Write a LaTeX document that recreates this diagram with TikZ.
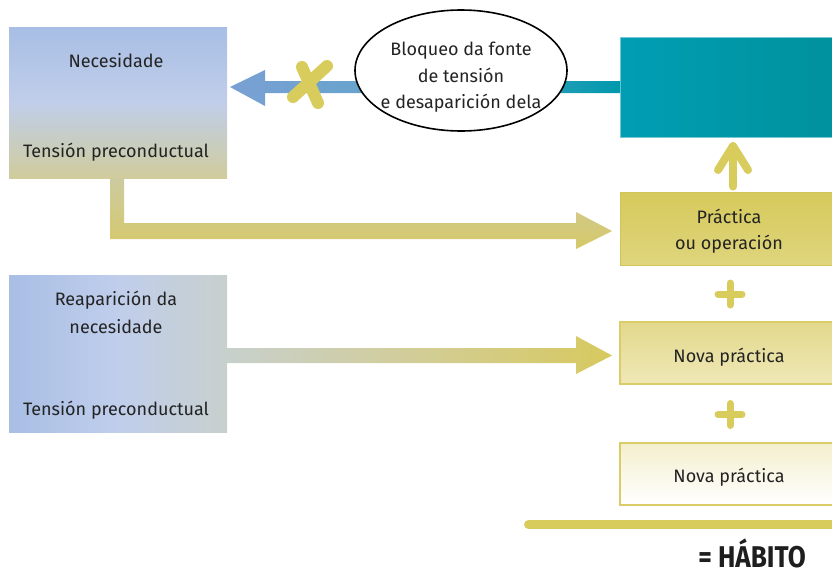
\documentclass[tikz,border=0pt]{standalone}
\usepackage{fontspec}
\setmainfont{Fira Sans}
\usetikzlibrary{calc,shapes.geometric}
\definecolor{txt}{RGB}{35,35,35}
\definecolor{bAtop}{RGB}{168,190,228}
\definecolor{bAmid}{RGB}{192,206,234}
\definecolor{bAbot}{RGB}{208,204,156}
\definecolor{bBleft}{RGB}{168,190,228}
\definecolor{bBmid}{RGB}{192,206,236}
\definecolor{bBright}{RGB}{200,208,205}
\definecolor{yl}{RGB}{216,204,92}
\definecolor{ylb}{RGB}{218,205,105}
\definecolor{tealL}{RGB}{0,158,180}
\definecolor{tealR}{RGB}{0,145,156}
\definecolor{tealB}{RGB}{120,200,212}
\definecolor{arL}{RGB}{122,160,212}
\definecolor{arM}{RGB}{95,165,202}
\definecolor{arR}{RGB}{0,153,172}
\tikzset{
  panel/.style={rectangle, inner sep=0pt, outer sep=0pt},
  lbl/.style={anchor=base, text=txt, inner sep=0pt},
  xmark/.style={draw=yl, line width=12pt, line cap=round},
  plusst/.style={draw=yl, line width=7pt, line cap=round},
  upar/.style={draw=yl, line width=8pt, line cap=round, line join=round},
}
\begin{document}
\begin{tikzpicture}[x=1pt,y=-1pt,font=\fontsize{18}{26}\selectfont]
\useasboundingbox (0,0) rectangle (832,576);

% left boxes
\node[panel, minimum width=218pt, minimum height=151pt, top color=bAtop, bottom color=bAbot, middle color=bAmid] (nec) at (118,102.5) {};
\node[lbl] (necA) at (116,67) {Necesidade};
\node[lbl] (necB) at (116,157) {Tensión preconductual};

\node[panel, minimum width=218pt, minimum height=157pt, left color=bBleft, right color=bBright, middle color=bBmid] (rea) at (118,353.5) {};
\node[lbl] (reaA) at (116,305) {Reaparición da};
\node[lbl] (reaB) at (116,333) {necesidade};
\node[lbl] (reaC) at (116,415) {Tensión preconductual};

% right column
\node[panel, minimum width=220pt, minimum height=100pt, left color=tealL, right color=tealR, draw=tealB, line width=0.8pt] (teal) at (730,87) {};
\node[panel, minimum width=218pt, minimum height=73pt, top color={rgb,255:red,214;green,201;blue,92}, bottom color={rgb,255:red,223;green,213;blue,125}, draw={rgb,255:red,210;green,197;blue,88}, line width=1pt] (prac) at (729,229) {};
\node[lbl] (pracA) at (729,223) {Práctica};
\node[lbl] (pracB) at (729,249) {ou operación};

\node[panel, minimum width=218pt, minimum height=62pt, top color={rgb,255:red,226;green,216;blue,140}, bottom color={rgb,255:red,239;green,232;blue,182}, draw=ylb, line width=2pt] (nova1) at (729,352.5) {};
\node[lbl] (nova1t) at (729,362) {Nova práctica};

\node[panel, minimum width=218pt, minimum height=62pt, top color={rgb,255:red,243;green,239;blue,205}, bottom color=white, draw=ylb, line width=2pt] (nova2) at (729,473.5) {};
\node[lbl] (nova2t) at (729,482) {Nova práctica};

% blocked arrow from teal box to necesidade
\coordinate (btip) at ($(nec.east)+(3,-15.5)$);
\path[left color=arL, right color=arR, middle color=arM]
  ($(teal.west)+(0,-6)$) -- ($(btip)+(35,-6)$) -- ($(btip)+(35,-17)$) -- (btip)
  -- ($(btip)+(35,19)$) -- ($(btip)+(35,6)$) -- ($(teal.west)+(0,6)$) -- cycle;

\node[ellipse, draw=black, line width=1.6pt, fill=white, minimum width=212pt, minimum height=121pt, inner sep=0pt] (blk) at (461,70.5) {};
\node[lbl] (blkA) at (461,55) {Bloqueo da fonte};
\node[lbl] (blkB) at (461,82) {de tensión};
\node[lbl] (blkC) at (461,108) {e desaparición dela};

% X mark
\draw[xmark] (302,67) -- (318,103);
\draw[xmark] (327,66) -- (293,97);

% L arrow from necesidade to practica
\coordinate (ltip) at ($(prac.west)+(-8,2)$);
\path[top color={rgb,255:red,205;green,202;blue,160}, bottom color={rgb,255:red,214;green,201;blue,105}]
  ($(nec.south)+(-8,0)$) -- ($(nec.south)+(-8,61)$) -- ($(ltip)+(-36,8)$) -- ($(ltip)+(-36,18)$) -- (ltip)
  -- ($(ltip)+(-36,-19)$) -- ($(ltip)+(-36,-8)$) -- ($(nec.south)+(6,45)$) -- ($(nec.south)+(6,0)$) -- cycle;

% arrow from reaparicion to nova practica
\coordinate (rtip) at ($(nova1.west)+(-8,3)$);
\path[left color=bBright, right color={rgb,255:red,215;green,201;blue,95}, middle color={rgb,255:red,210;green,205;blue,150}]
  ($(rea.east)+(0,-5.5)$) -- ($(rtip)+(-36,-7.5)$) -- ($(rtip)+(-36,-19.5)$) -- (rtip)
  -- ($(rtip)+(-36,18.5)$) -- ($(rtip)+(-36,7.5)$) -- ($(rea.east)+(0,9.5)$) -- cycle;

% up arrow from practica to teal box
\draw[upar] ($(prac.north)+(4,-6)$) -- ($(teal.south)+(3,9)$);
\draw[upar] ($(teal.south)+(-12,33)$) -- ($(teal.south)+(3,9)$) -- ($(teal.south)+(18,33)$);

% pluses
\coordinate (p1) at (730,294);
\draw[plusst] ($(p1)+(-12,0)$) -- ($(p1)+(12,0)$) ($(p1)+(0,-11)$) -- ($(p1)+(0,11)$);
\coordinate (p2) at (730,414.5);
\draw[plusst] ($(p2)+(-12,0)$) -- ($(p2)+(12,0)$) ($(p2)+(0,-11)$) -- ($(p2)+(0,11)$);

% bar and result
\coordinate (barL) at (528.5,524.5);
\coordinate (barR) at (840,524.5);
\draw[draw=yl, line width=9pt, line cap=round] (barL) -- (barR);
\node[anchor=base east, inner sep=0pt, text={rgb,255:red,30;green,30;blue,30}, font=\bfseries\fontsize{30}{32}\selectfont] (hab) at (806,567) {\scalebox{0.87}[1]{= HÁBITO}};
\end{tikzpicture}
\end{document}
